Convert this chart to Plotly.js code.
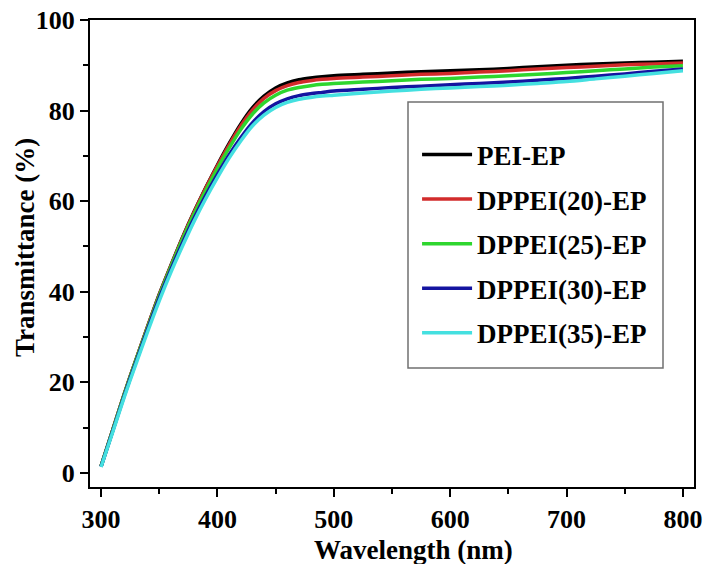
<!DOCTYPE html>
<html>
<head>
<meta charset="utf-8">
<script src="https://cdn.plot.ly/plotly-3.0.1.min.js"></script>
<style>html,body{margin:0;padding:0;background:#fff;}#chart{width:707px;height:564px;}</style>
</head>
<body>
<div id="chart"></div>
<script>
const wavelength = [300,310,320,330,340,350,360,370,380,390,400,410,420,430,440,450,460,470,480,490,500,525,550,575,600,625,650,675,700,725,750,775,800];
const seriesNames = ["PEI-EP","DPPEI(20)-EP","DPPEI(25)-EP","DPPEI(30)-EP","DPPEI(35)-EP"];
const pei = [1.5,9.5,17.5,25,32.3,39.4,45.8,52,57.7,63,68,72.7,77,80.6,83.2,85.0,86.1,86.8,87.2,87.5,87.7,88.0,88.3,88.6,88.8,89.0,89.3,89.7,90.0,90.3,90.5,90.7,90.9];
const dp20 = [1.5,9.5,17.5,25,32.3,39.3,45.7,51.9,57.6,62.9,67.8,72.4,76.6,80.1,82.7,84.4,85.5,86.2,86.6,86.9,87.1,87.4,87.7,88.0,88.2,88.5,88.8,89.2,89.5,89.8,90.1,90.3,90.5];
const dp25 = [1.5,9.4,17.4,24.9,32.1,39.1,45.5,51.6,57.2,62.4,67.2,71.7,75.8,79.2,81.7,83.4,84.5,85.1,85.5,85.8,86.0,86.3,86.6,86.9,87.1,87.4,87.7,88.0,88.4,88.8,89.2,89.6,89.9];
const dp30 = [1.4,9.2,17.1,24.5,31.7,38.6,44.9,50.8,56.3,61.3,65.9,70.2,74.0,77.3,79.8,81.5,82.6,83.3,83.7,84.0,84.3,84.7,85.1,85.4,85.7,86.0,86.3,86.7,87.1,87.6,88.1,88.7,89.2];
const dp35 = [1.3,9.0,16.8,24.1,31.2,38.0,44.3,50.1,55.6,60.6,65.2,69.5,73.3,76.6,79.0,80.7,81.8,82.5,82.9,83.2,83.4,83.9,84.3,84.7,85.0,85.3,85.6,86.0,86.4,87.0,87.6,88.2,88.8];
const xTickVals = [300,400,500,600,700,800];
const yTickVals = [0,20,40,60,80,100];

const seriesValues = [pei, dp20, dp25, dp30, dp35];
const colors = ["#000000","#d22b2b","#2ed62e","#1414a0","#44e0e0"];

const font = "'Liberation Serif', 'Times New Roman', serif";
const traces = seriesValues.map((v, i) => ({
  x: wavelength, y: v, name: seriesNames[i], type: 'scatter', mode: 'lines',
  line: {color: colors[i], width: 3.5, shape: 'spline', smoothing: 0.8},
  legendgroup: 'g' + i
}));

const axisCommon = {
  showline: true, linecolor: '#000', linewidth: 2, mirror: true,
  ticks: 'outside', ticklen: 8, tickwidth: 2, tickcolor: '#000',
  showgrid: false, zeroline: false,
  tickfont: {family: font, size: 26, color: '#000', weight: 'bold'}
};

const layout = {
  width: 707, height: 564,
  margin: {l: 90, r: 13, t: 20, b: 77},
  paper_bgcolor: '#fff', plot_bgcolor: '#fff',
  showlegend: true,
  xaxis: Object.assign({}, axisCommon, {
    range: [290.5, 809.5], tickvals: xTickVals,
    minor: {dtick: 50, tick0: 300, ticks: 'outside', ticklen: 5, tickwidth: 2, tickcolor: '#000'}
  }),
  yaxis: Object.assign({}, axisCommon, {
    range: [-3.1, 100], tickvals: yTickVals,
    minor: {dtick: 10, tick0: 0, ticks: 'outside', ticklen: 5, tickwidth: 2, tickcolor: '#000'}
  }),
  legend: {
    x: 0.5415, y: 0.7636, xanchor: 'left', yanchor: 'top',
    bgcolor: 'rgba(0,0,0,0)', borderwidth: 0,
    font: {family: font, size: 27, color: '#000', weight: 'bold'},
    traceorder: 'grouped', tracegroupgap: 6.5, itemwidth: 50
  },
  shapes: [{
    type: 'rect', xref: 'paper', yref: 'paper',
    x0: (408 - 90) / 604, x1: (663 - 90) / 604,
    y0: (487 - 368) / 467, y1: (487 - 102) / 467,
    line: {color: '#707070', width: 1.5}, fillcolor: 'rgba(0,0,0,0)', layer: 'above'
  }],
  annotations: [
    {text: 'Wavelength (nm)', xref: 'paper', yref: 'paper', x: (413 - 90) / 604, y: (487 - 550) / 467,
     xanchor: 'center', yanchor: 'middle', showarrow: false,
     font: {family: font, size: 27, color: '#000', weight: 'bold'}},
    {text: 'Transmittance (%)', xref: 'paper', yref: 'paper', x: (25 - 90) / 604, y: (487 - 248) / 467,
     xanchor: 'center', yanchor: 'middle', showarrow: false, textangle: -90,
     font: {family: font, size: 27, color: '#000', weight: 'bold'}}
  ]
};

Plotly.newPlot('chart', traces, layout, {displayModeBar: false, staticPlot: true});
</script>
</body>
</html>
